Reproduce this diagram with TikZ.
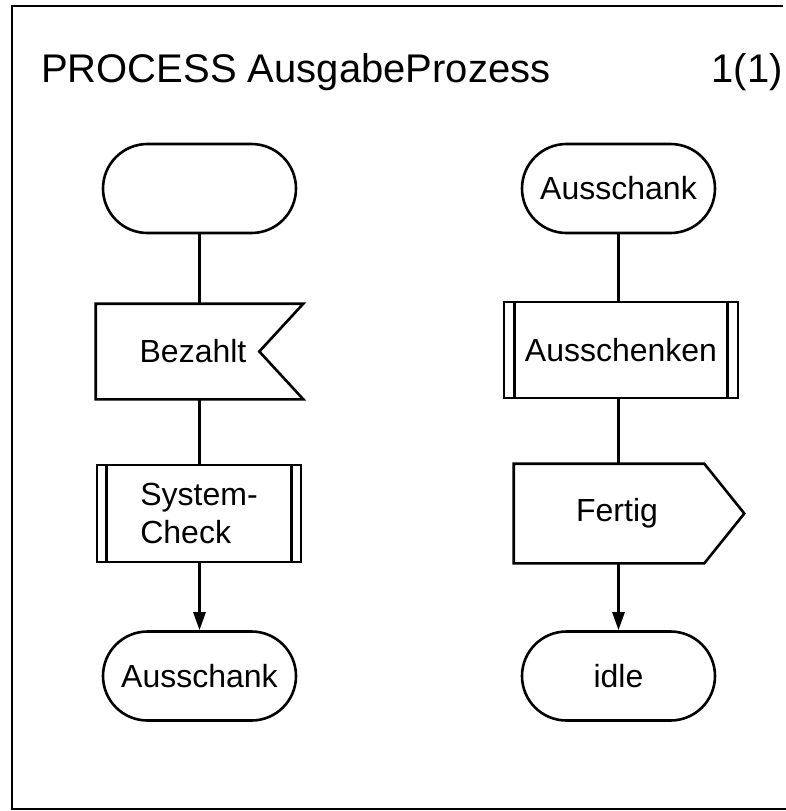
\documentclass[tikz,border=0pt]{standalone}
\usepackage{fontspec}
\setmainfont{Liberation Sans}
\usetikzlibrary{arrows.meta,shapes.misc}
\begin{document}
\begin{tikzpicture}[x=1pt,y=-1pt,
  line width=2.6pt,
  lbl/.style={font=\fontsize{32}{38}\selectfont, inner sep=0pt},
  state/.style={lbl, draw, rounded rectangle, minimum width=193pt, minimum height=89pt},
  procbox/.style={lbl, draw, rectangle, minimum width=204pt, minimum height=97pt, align=left},
  title/.style={font=\fontsize{40}{48}\selectfont, inner sep=0pt},
  flow/.style={line width=2.6pt},
  arr/.style={flow, -{Triangle[length=18pt,width=12pt]}},
]
\useasboundingbox (0,0) rectangle (786,811);

% diagram frame
\draw[line width=2.8pt] (783,6) -- (12,6) -- (12,809) -- (786,809);

% heading
\node[title, anchor=base west] (head) at (40,82) {PROCESS AusgabeProzess};
\node[title, anchor=base east] (page) at (784,82) {1(1)};

% left column: start, input, procedure call, next state
\node[state] (start) at (199.5,188.5) {};

\node[lbl, minimum width=205pt, minimum height=93pt] (bez) at (199.5,351.5) {\hspace*{-13pt}Bezahlt};
\draw (bez.north west) -- (bez.north east) -- ([xshift=-44pt]bez.east)
      -- (bez.south east) -- (bez.south west) -- cycle;

\node[procbox] (sys) at (199,513.5) {System-\\Check};
\draw ([xshift=11pt]sys.north west) -- ([xshift=11pt]sys.south west);
\draw ([xshift=-11pt]sys.north east) -- ([xshift=-11pt]sys.south east);

\node[state] (endL) at (199.5,676) {Ausschank};

\draw[flow] (start.south) -- (start.south |- bez.north);
\draw[flow] (bez.south) -- (bez.south |- sys.north);
\draw[arr] (endL.north |- sys.south) -- (endL.north);

% right column: state, procedure call, output, next state
\node[state] (ausR) at (618.5,188.5) {Ausschank};

\node[procbox, minimum width=234pt, minimum height=96pt] (schenk) at (621,350) {Ausschenken};
\draw ([xshift=12pt]schenk.north west) -- ([xshift=12pt]schenk.south west);
\draw ([xshift=-12pt]schenk.north east) -- ([xshift=-12pt]schenk.south east);

\node[lbl, minimum width=188pt, minimum height=97pt] (fert) at (609,513.5) {Fertig\hspace*{-16pt}};
\draw (fert.north west) -- (fert.north east) -- ([xshift=40pt]fert.east)
      -- (fert.south east) -- (fert.south west) -- cycle;

\node[state] (idle) at (618.5,676) {idle};

\draw[flow] (ausR.south) -- (ausR.south |- schenk.north);
\draw[flow] (idle.north |- schenk.south) -- (idle.north |- fert.north);
\draw[arr] (idle.north |- fert.south) -- (idle.north);
\end{tikzpicture}
\end{document}
